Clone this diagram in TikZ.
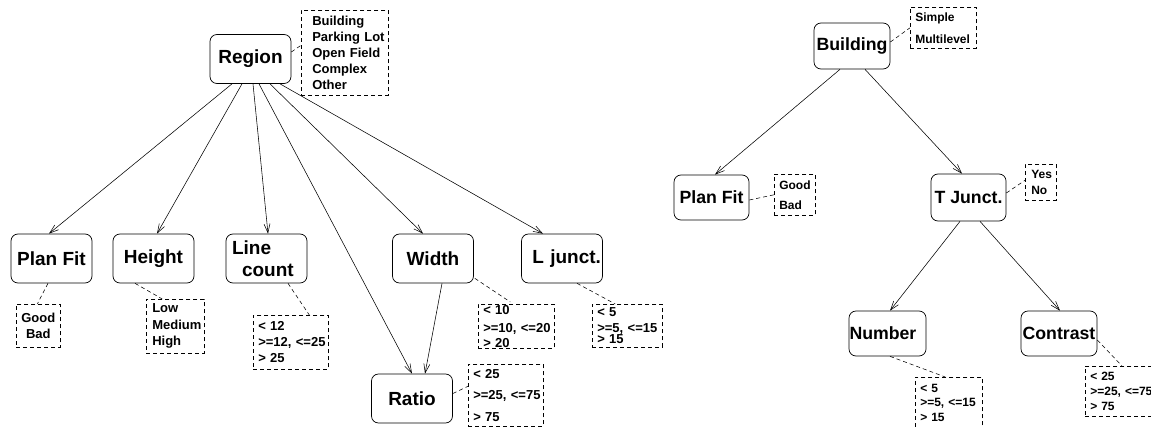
\documentclass[tikz,border=0pt]{standalone}
\usepackage{fontspec}
\setmainfont{Liberation Sans}
\usetikzlibrary{arrows.meta}
\newcommand\ip[1]{\hspace*{#1}}
\begin{document}
\begin{tikzpicture}[x=1pt,y=-1pt,
  bigL/.style={draw, rounded corners=7pt, line width=0.7pt, minimum width=81pt, minimum height=49pt, inner sep=0pt, font=\fontsize{19}{22}\selectfont\bfseries},
  bigR/.style={draw, rounded corners=7pt, line width=0.7pt, minimum width=76pt, minimum height=46pt, inner sep=0pt, font=\fontsize{17.7}{21}\selectfont\bfseries},
  vals/.style={draw, dash pattern=on 4pt off 3pt, line width=0.6pt, anchor=north west, inner sep=0pt, align=left},
  valsL/.style={vals, font=\fontsize{13}{16}\selectfont\bfseries},
  valsR/.style={vals, font=\fontsize{12}{15}\selectfont\bfseries},
  arr/.style={-{Straight Barb[length=9pt,width=6pt]}, line width=0.55pt},
  conn/.style={dash pattern=on 4pt off 3pt, line width=0.55pt}]
\useasboundingbox (0,0) rectangle (1151,428);

% left tree
\node[bigL] (region) at (250.5,59) {Region};
\node[bigL] (planL) at (51.5,258.5) {Plan Fit};
\node[bigL] (height) at (153.5,258.5) {Height};
\node[bigL, align=left, text width=75pt] (lcount) at (266.5,258.5) {\ip{3pt}Line\\\ip{13pt}count};
\node[bigL] (width) at (433,258.5) {Width};
\node[bigL, text width=78pt, align=right] (ljunct) at (562,258.5) {L junct.};
\node[bigL] (ratio) at (412,398.5) {Ratio};

\node[valsL, minimum height=85pt, text width=87pt, font=\fontsize{13}{15.8}\selectfont\bfseries] (regionv) at (301,10) {\ip{11pt}Building\\\ip{11pt}Parking Lot\\\ip{11pt}Open Field\\\ip{11pt}Complex\\\ip{11pt}Other};
\node[valsL, align=center, minimum height=43pt, text width=44pt] (planLv) at (16,304) {Good\\Bad};
\node[valsL, minimum height=54pt, text width=58pt, font=\fontsize{13}{16.5}\selectfont\bfseries] (heightv) at (146,299) {\ip{6pt}Low\\\ip{6pt}Medium\\\ip{6pt}High};
\node[valsL, minimum height=54pt, text width=75pt] (lcv) at (253,315) {\ip{5pt}< 12\\\ip{5pt}>=12, <=25\\\ip{5pt}> 25};
\node[valsL, minimum height=44pt, text width=76pt] (widthv) at (478,304) {\ip{5pt}< 10\\[2pt]\ip{5pt}>=10, <=20\\[-1pt]\ip{5pt}> 20};
\node[valsL, minimum height=43pt, text width=70pt] (ljv) at (592,304) {\ip{5pt}< 5\\\ip{5pt}>=5, <=15\\[-5pt]\ip{5pt}> 15};
\node[valsL, minimum height=62pt, text width=75pt, font=\fontsize{13}{21.5}\selectfont\bfseries] (ratiov) at (468,364) {\ip{5pt}< 25\\\ip{5pt}>=25, <=75\\\ip{5pt}> 75};

% right tree
\node[bigR] (building) at (852,46) {Building};
\node[bigR, minimum width=75pt, minimum height=45pt] (planR) at (711.5,197.5) {Plan Fit};
\node[bigR, minimum width=75pt, minimum height=47pt] (tj) at (968.5,197.5) {T Junct.};
\node[bigR, minimum width=77pt, minimum height=45pt, text width=76pt, align=left] (number) at (887.5,333.5) {Number};
\node[bigR, minimum height=45pt] (contrast) at (1059,333.5) {Contrast};

\node[valsR, minimum height=41pt, text width=66pt, font=\fontsize{12}{22}\selectfont\bfseries] (buildingv) at (910,7) {\ip{5pt}Simple\\\ip{5pt}Multilevel};
\node[valsR, minimum height=41pt, text width=41pt, font=\fontsize{12}{20}\selectfont\bfseries] (planRv) at (774,174) {\ip{5pt}Good\\\ip{5pt}Bad};
\node[valsR, minimum height=36pt, text width=31pt, font=\fontsize{12}{16}\selectfont\bfseries] (tjv) at (1025,164) {\ip{6pt}Yes\\\ip{6pt}No};
\node[valsR, minimum height=51pt, text width=67pt, font=\fontsize{12}{14.5}\selectfont\bfseries] (numberv) at (915,377) {\ip{5pt}< 5\\\ip{5pt}>=5, <=15\\\ip{5pt}> 15};
\node[valsR, minimum height=50pt, text width=75pt] (contrastv) at (1085,366) {\ip{5pt}< 25\\\ip{5pt}>=25, <=75\\\ip{5pt}> 75};

% arrows left
\draw[arr] ([xshift=-18.5pt]region.south) -- ([xshift=-2.5pt]planL.north);
\draw[arr] ([xshift=-8.5pt]region.south) -- ([xshift=3.5pt]height.north);
\draw[arr] ([xshift=2.5pt]region.south) -- ([xshift=1.5pt]lcount.north);
\draw[arr] ([xshift=8.5pt]region.south) -- (ratio.north);
\draw[arr] ([xshift=19.5pt]region.south) -- ([xshift=-10pt]width.north);
\draw[arr] ([xshift=29.5pt]region.south) -- ([xshift=-19pt]ljunct.north);
\draw[arr] ([xshift=9pt]width.south) -- ([xshift=13pt]ratio.north);

% arrows right
\draw[arr] ([xshift=-12pt]building.south) -- ([xshift=3.5pt]planR.north);
\draw[arr] ([xshift=13pt]building.south) -- ([xshift=-6.5pt]tj.north);
\draw[arr] ([xshift=-8.5pt]tj.south) -- ([xshift=2.5pt]number.north);
\draw[arr] ([xshift=11.5pt]tj.south) -- ([xshift=1pt]contrast.north);

% dashed connectors
\draw[conn] ([yshift=7pt]region.east) -- ([yshift=7.5pt]regionv.west);
\draw[conn] ([xshift=-3.5pt]planL.south) -- ([xshift=-1pt]planLv.north);
\draw[conn] ([xshift=-18.5pt]height.south) -- ([xshift=-13pt]heightv.north);
\draw[conn] ([xshift=21.5pt]lcount.south) -- ([xshift=18.5pt]lcv.north);
\draw[conn] ([xshift=1pt,yshift=5pt]width.south east) -- ([xshift=-6pt,yshift=2pt]widthv.north);
\draw[conn] ([xshift=15pt]ljunct.south) -- ([xshift=-12pt]ljv.north);
\draw[conn] ([yshift=5pt]ratio.east) -- ([yshift=9pt]ratiov.west);
\draw[conn] ([yshift=4pt]building.east) -- (buildingv.west);
\draw[conn] ([yshift=-2.5pt]planR.east) -- (planRv.west);
\draw[conn] ([yshift=4.5pt]tj.east) -- ([yshift=2pt]tjv.west);
\draw[conn] ([xshift=2.5pt]number.south) -- ([xshift=-3.5pt]numberv.north);
\draw[conn] ([yshift=-6.5pt]contrast.east) -- ([xshift=37pt]contrastv.north west);
\end{tikzpicture}
\end{document}
